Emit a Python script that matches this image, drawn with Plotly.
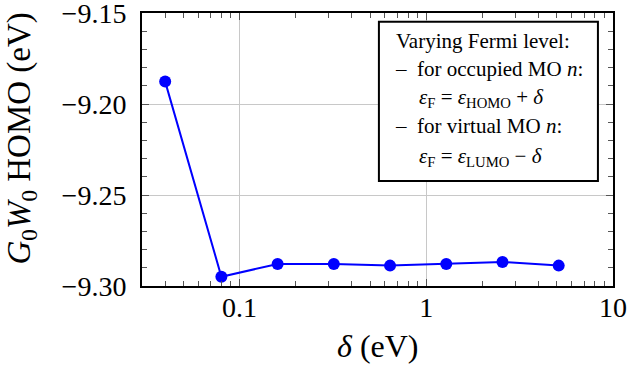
import plotly.graph_objects as go

# Fermi-level offset delta (eV) and resulting G0W0 HOMO energy (eV)
delta = [0.04, 0.08, 0.16, 0.32, 0.64, 1.28, 2.56, 5.12]
homo = [-9.1877, -9.2949, -9.2879, -9.2879, -9.2888, -9.2879, -9.2868, -9.2888]

x_major = [0.1, 1, 10]
x_major_text = ["0.1", "1", "10"]
x_minor = [0.03, 0.04, 0.05, 0.06, 0.07, 0.08, 0.09,
           0.2, 0.3, 0.4, 0.5, 0.6, 0.7, 0.8, 0.9,
           2, 3, 4, 5, 6, 7, 8, 9]
y_major = [-9.30, -9.25, -9.20, -9.15]

x_title = "<i>δ</i> (eV)"
y_title = "<i>G</i><sub>0</sub><i>W</i><sub>0</sub> HOMO (eV)"

legend_lines = [
    "Varying Fermi level:",
    "–  for occupied MO <i>n</i>:",
    "<i>ε</i><sub>F</sub> = <i>ε</i><sub>HOMO</sub> + <i>δ</i>",
    "–  for virtual MO <i>n</i>:",
    "<i>ε</i><sub>F</sub> = <i>ε</i><sub>LUMO</sub> − <i>δ</i>",
]

FONT = "Liberation Serif"

fig = go.Figure()
fig.add_trace(go.Scatter(
    x=delta, y=homo, mode="lines+markers",
    line=dict(color="#0000ff", width=2),
    marker=dict(color="#0000ff", size=12),
    showlegend=False,
))

axis_common = dict(
    showline=True, linecolor="black", linewidth=2, mirror="allticks",
    ticks="inside", ticklen=7, tickwidth=1, tickcolor="#555",
    showgrid=True, gridcolor="#c8c8c8", gridwidth=1,
    zeroline=False, ticklabeloverflow="allow", automargin=False,
    tickfont=dict(family=FONT, size=28, color="black"),
)

fig.update_xaxes(
    type="log", range=[-1.522, 1.0],
    tickvals=x_major, ticktext=x_major_text,
    minor=dict(tickvals=x_minor, ticks="inside", ticklen=5, tickcolor="#555", showgrid=False),
    ticklabelstandoff=-5,
    **axis_common,
)
fig.update_yaxes(
    range=[-9.30, -9.15],
    tickvals=y_major, tickformat=".2f",
    minor=dict(dtick=0.01, ticks="inside", ticklen=5, tickcolor="#555", showgrid=False),
    ticklabelstandoff=8,
    **axis_common,
)

# Axis titles placed as annotations
fig.add_annotation(xref="paper", yref="paper", x=0.5, y=-0.22, text=x_title,
                   showarrow=False, xanchor="center", yanchor="middle",
                   font=dict(family=FONT, size=32, color="black"))
fig.add_annotation(xref="paper", yref="paper", x=-0.255, y=0.54, text=y_title,
                   textangle=-90, showarrow=False, xanchor="center", yanchor="middle",
                   font=dict(family=FONT, size=33, color="black"))

# Legend-style note box in the upper right
box_x0, box_x1 = 0.503, 0.968
box_y0, box_y1 = 0.385, 0.968
fig.add_shape(type="rect", xref="paper", yref="paper",
              x0=box_x0, x1=box_x1, y0=box_y0, y1=box_y1,
              line=dict(color="black", width=2), fillcolor="white", layer="above")
line_y = [0.899, 0.796, 0.688, 0.585, 0.472]
line_x = [0.534, 0.532, 0.583, 0.532, 0.583]
for txt, yy, xx in zip(legend_lines, line_y, line_x):
    fig.add_annotation(xref="paper", yref="paper", x=xx, y=yy, text=txt,
                       showarrow=False, xanchor="left", yanchor="middle",
                       font=dict(family=FONT, size=21, color="black"))

fig.update_layout(
    width=628, height=374,
    margin=dict(l=142, r=15, t=13, b=88),
    paper_bgcolor="white", plot_bgcolor="white",
    font=dict(family=FONT, color="black"),
)

fig.write_html("out.html")
